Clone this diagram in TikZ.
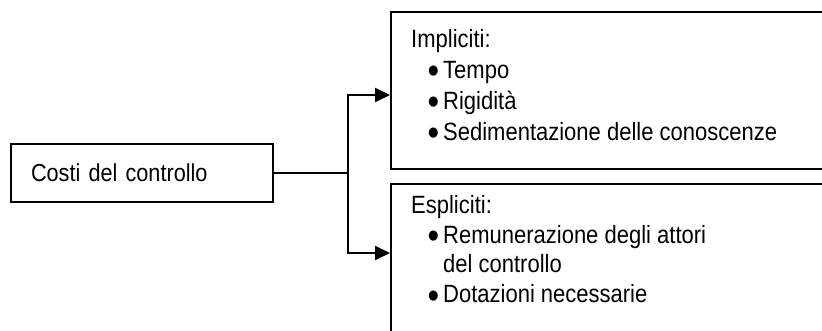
\documentclass[tikz,border=0pt]{standalone}
\usepackage{fontspec}
\setmainfont{Liberation Sans}[FakeStretch=0.88]
\usetikzlibrary{arrows.meta,calc}

% one bulleted entry and its continuation line
\newcommand{\bulletitem}[1]{\hspace*{19pt}\makebox[13pt][l]{\hspace*{-2.5pt}\raisebox{-5.6pt}{\scalebox{1.5}{•}}}#1}
\newcommand{\contline}[1]{\hspace*{32pt}#1}

\tikzset{
  box/.style={draw, line width=2.1pt, rectangle, inner sep=0pt},
  boxtext/.style={inner sep=0pt, anchor=north west, align=left,
    font=\fontsize{25}{#1}\selectfont},
  link/.style={line width=2.1pt},
  arrowlink/.style={link, -{Triangle[length=15pt,width=14pt]}},
}

\begin{document}
\begin{tikzpicture}[x=1pt,y=-1pt]
  \useasboundingbox[fill=white] (0,0) rectangle (822,331);

  % source box
  \node[box, anchor=north west, minimum width=262pt, minimum height=58pt,
        text width=222pt, inner xsep=20pt, align=left,
        font=\fontsize{24.6}{28}\selectfont] (costi) at (10,143)
        {Costi del controllo};

  % the two cost boxes (running off the right edge)
  \node[box, anchor=north west, minimum width=450pt, minimum height=157pt]
        (impl) at (390,11) {};
  \node[box, anchor=north west, minimum width=450pt, minimum height=170pt]
        (espl) at (390,183) {};

  \node[boxtext=31] (impltext) at ($(impl.north west)+(21,18)$)
    {Impliciti:\\
     \bulletitem{Tempo}\\
     \bulletitem{Rigidità}\\
     \bulletitem{Sedimentazione delle conoscenze}};

  \node[boxtext=29.8] (espltext) at ($(espl.north west)+(21,12)$)
    {Espliciti:\\
     \bulletitem{Remunerazione degli attori}\\
     \contline{del controllo}\\
     \bulletitem{Dotazioni necessarie}};

  % connectors
  \coordinate (split) at ($(costi.east)+(74,0)$);
  \coordinate (inimpl) at ($(impl.north west)+(0,84)$);
  \coordinate (inespl) at ($(espl.north west)+(0,70)$);
  \draw[link] (costi.east) -- (split);
  \draw[arrowlink] (split) |- (inimpl);
  \draw[arrowlink] (split) |- (inespl);
\end{tikzpicture}
\end{document}
